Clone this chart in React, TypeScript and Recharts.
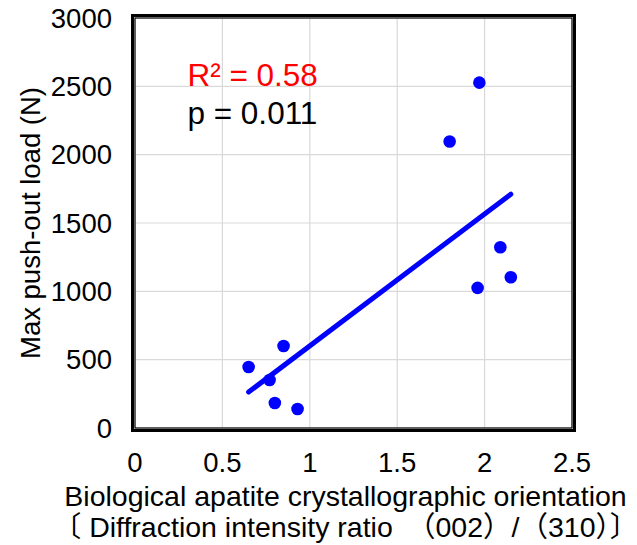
import React from 'react';
import {
  ScatterChart,
  Scatter,
  XAxis,
  YAxis,
  CartesianGrid,
  ReferenceArea,
  ReferenceDot,
  Label,
} from 'recharts';

// values
const ratio = [0.65, 0.77, 0.85, 0.8, 0.93, 1.8, 1.97, 1.96, 2.09, 2.15];
const pushOutLoad = [446, 351, 600, 183, 139, 2096, 2527, 1025, 1323, 1103];
const trendX = [0.65, 2.15];
const trendY = [263, 1711];
const xTicks = [0, 0.5, 1, 1.5, 2, 2.5];
const yTicks = [0, 500, 1000, 1500, 2000, 2500, 3000];

const FONT = '"Liberation Sans", Arial, "Noto Sans CJK JP", sans-serif';

const points = ratio.map((x, i) => ({ x, y: pushOutLoad[i] }));
const trend = trendX.map((x, i) => ({ x, y: trendY[i] }));

const XTick = (props: any) => {
  const { x, y, payload } = props;
  return (
    <text x={x} y={y + 26} textAnchor="middle" dominantBaseline="central" fontSize={27.5} fontFamily={FONT} fill="#000">
      {payload.value}
    </text>
  );
};

const YTick = (props: any) => {
  const { y, payload } = props;
  return (
    <text x={112} y={y} textAnchor="end" dominantBaseline="central" fontSize={27.5} fontFamily={FONT} fill="#000">
      {payload.value}
    </text>
  );
};

// double frame like the spreadsheet plot area
const Frame = (props: any) => {
  const { x, y, width, height } = props;
  return (
    <g>
      <rect x={x} y={y} width={width} height={height} fill="none" stroke="#000" strokeWidth={1.2} />
      <rect x={x - 2.5} y={y - 2.5} width={width + 5} height={height + 5} fill="none" stroke="#000" strokeWidth={3} />
    </g>
  );
};

const XLabel = (props: any) => {
  const { viewBox } = props;
  const cx = viewBox.x + viewBox.width / 2 - 8;
  return (
    <g fontFamily={FONT} fontSize={28.5} fill="#000">
      <text x={cx} y={496} textAnchor="middle" dominantBaseline="central">
        Biological apatite crystallographic orientation
      </text>
      <text x={cx} y={527} textAnchor="middle" dominantBaseline="central">
        〔 Diffraction intensity ratio　（002）/（310）〕
      </text>
    </g>
  );
};

const YLabel = () => (
  <text
    x={30}
    y={223}
    transform="rotate(-90 30 223)"
    textAnchor="middle"
    dominantBaseline="central"
    fontSize={27.5}
    fontFamily={FONT}
    fill="#000"
  >
    Max push-out load (N)
  </text>
);

const Dot = (props: any) => <circle cx={props.cx} cy={props.cy} r={6.3} fill="#0000ff" />;

const note = (txt: string, color: string) => (props: any) => (
  <text x={props.cx} y={props.cy} dominantBaseline="central" fontSize={31.5} fontFamily={FONT} fill={color}>
    {txt}
  </text>
);

export default function App() {
  return (
    <div style={{ position: 'absolute', left: 0, top: 0 }}>
      <ScatterChart width={637} height={545} margin={{ top: 18, right: 65, bottom: 0, left: 0 }}>
        <CartesianGrid stroke="#d9d9d9" strokeWidth={1.2} />
        <XAxis
          type="number"
          dataKey="x"
          domain={[0, 2.5]}
          ticks={xTicks}
          height={117}
          axisLine={false}
          tickLine={false}
          tick={<XTick />}
          interval={0}
        >
          <Label content={<XLabel />} />
        </XAxis>
        <YAxis
          type="number"
          dataKey="y"
          domain={[0, 3000]}
          ticks={yTicks}
          width={135}
          axisLine={false}
          tickLine={false}
          tick={<YTick />}
          interval={0}
        >
          <Label content={<YLabel />} />
        </YAxis>
        <ReferenceArea x1={0} x2={2.5} y1={0} y2={3000} shape={<Frame />} />
        <Scatter
          data={trend}
          line={{ stroke: '#0000ff', strokeWidth: 5, strokeLinecap: 'round' }}
          shape={() => null}
          isAnimationActive={false}
        />
        <Scatter data={points} fill="#0000ff" shape={<Dot />} isAnimationActive={false} />
        <ReferenceDot x={0.3} y={2583} shape={note('R² = 0.58', '#ff0000')} />
        <ReferenceDot x={0.3} y={2305} shape={note('p = 0.011', '#000000')} />
      </ScatterChart>
    </div>
  );
}
